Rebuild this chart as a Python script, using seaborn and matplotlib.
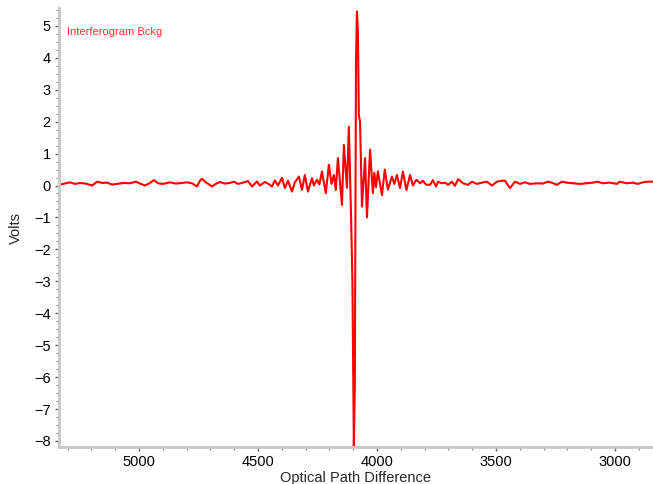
import matplotlib
matplotlib.use("Agg")
import matplotlib.pyplot as plt
from matplotlib.ticker import MultipleLocator
import seaborn as sns
import pandas as pd

# Optical path difference (x) and signal (Volts)
opd = [5336, 5319, 5290, 5269, 5248, 5223, 5197, 5176, 5155, 5134, 5113, 5092,
       5063, 5038, 5013, 4992, 4975, 4954, 4937, 4920, 4899, 4870, 4845, 4819,
       4798, 4777, 4756, 4744, 4735, 4719, 4693, 4677, 4660, 4639, 4618, 4601,
       4584, 4563, 4542, 4525, 4504, 4492, 4471, 4458, 4441, 4429, 4416, 4399,
       4387, 4374, 4357, 4345, 4328, 4315, 4303, 4290, 4273, 4265, 4252, 4242,
       4231, 4215, 4202, 4191, 4181, 4173, 4164, 4147, 4139, 4126, 4118, 4109,
       4103, 4097, 4093, 4088, 4084, 4080, 4076, 4071, 4063, 4050, 4042, 4029,
       4017, 4011, 4004, 3996, 3979, 3967, 3954, 3937, 3927, 3916, 3903, 3891,
       3876, 3861, 3849, 3834, 3819, 3807, 3794, 3777, 3765, 3752, 3743, 3727,
       3714, 3701, 3685, 3672, 3659, 3638, 3617, 3601, 3580, 3559, 3538, 3517,
       3496, 3475, 3462, 3441, 3420, 3399, 3378, 3357, 3328, 3303, 3282, 3265,
       3244, 3223, 3202, 3177, 3147, 3118, 3093, 3072, 3051, 3021, 2992, 2980,
       2950, 2925, 2904, 2883, 2862, 2841]
volts = [0.03, 0.05, 0.10, 0.05, 0.08, 0.06, 0.00, 0.12, 0.08, 0.09, 0.03, 0.05,
         0.08, 0.07, 0.12, 0.05, 0.00, 0.08, 0.17, 0.07, 0.05, 0.10, 0.06, 0.08,
         0.10, 0.07, -0.03, 0.15, 0.21, 0.10, -0.03, 0.05, 0.11, 0.06, 0.08, 0.12,
         0.05, 0.09, 0.14, -0.03, 0.13, 0.00, 0.11, 0.06, -0.03, 0.16, 0.00, 0.24,
         -0.08, 0.15, -0.19, 0.10, 0.28, -0.14, 0.33, -0.19, 0.23, 0.00, 0.18, 0.03,
         0.44, -0.24, 0.65, 0.05, 0.33, -0.14, 0.86, -0.61, 1.27, -0.07, 1.84, -0.90,
         -3.00, -8.20, -6.30, 3.90, 5.45, 4.80, 2.20, 2.00, -0.66, 0.86, -1.00, 1.12,
         -0.24, 0.40, -0.05, 0.44, -0.30, 0.50, -0.13, 0.28, 0.05, 0.33, -0.08, 0.44,
         -0.14, 0.33, 0.00, 0.18, 0.07, 0.15, 0.03, 0.02, 0.17, -0.03, 0.12, 0.07,
         0.09, 0.02, 0.12, -0.01, 0.20, 0.07, 0.02, 0.12, 0.05, 0.09, 0.12, 0.00,
         0.12, 0.15, 0.15, -0.08, 0.12, 0.05, 0.10, 0.05, 0.07, 0.06, 0.12, 0.09,
         0.02, 0.12, 0.09, 0.07, 0.05, 0.07, 0.09, 0.12, 0.07, 0.09, 0.05, 0.12,
         0.07, 0.09, 0.05, 0.10, 0.12, 0.12]

series_label = "Interferogram Bckg"
x_title = "Optical Path Difference"
y_title = "Volts"

df = pd.DataFrame({"opd": opd, "volts": volts})

sns.set_style("white")
plt.rcParams["font.family"] = ["Liberation Sans", "DejaVu Sans"]

fig = plt.figure(figsize=(6.53, 4.84), dpi=100)
ax = fig.add_axes([59 / 653, 37 / 484, 1 - 59 / 653, 1 - 45 / 484])

sns.lineplot(data=df, x="opd", y="volts", sort=False, estimator=None,
             color="#ff0000", linewidth=1.5, ax=ax)

ax.set_xlim(5336, 2840)
ax.set_ylim(-8.19, 5.56)

ax.xaxis.set_major_locator(MultipleLocator(500))
ax.xaxis.set_minor_locator(MultipleLocator(100))
ax.yaxis.set_major_locator(MultipleLocator(1))
ax.yaxis.set_minor_locator(MultipleLocator(0.25))

for s in ["top", "right"]:
    ax.spines[s].set_visible(False)
for s in ["left", "bottom"]:
    ax.spines[s].set_color("#c8c8c8")
    ax.spines[s].set_linewidth(2)

ax.tick_params(which="major", direction="out", length=3, width=1, color="#606060",
               labelsize=10.5, labelcolor="black", pad=3,
               bottom=True, left=True)
ax.tick_params(which="minor", direction="out", length=2, width=0.8, color="#808080",
               bottom=True, left=True)

ax.set_xlabel(x_title, fontsize=10.5, labelpad=1)
ax.set_ylabel(y_title, fontsize=10.5, labelpad=8)

ax.text(8 / 594, 0.945, series_label, transform=ax.transAxes,
        color="#ff3333", fontsize=8, va="center", ha="left")

fig.savefig("out.png", dpi=100)
